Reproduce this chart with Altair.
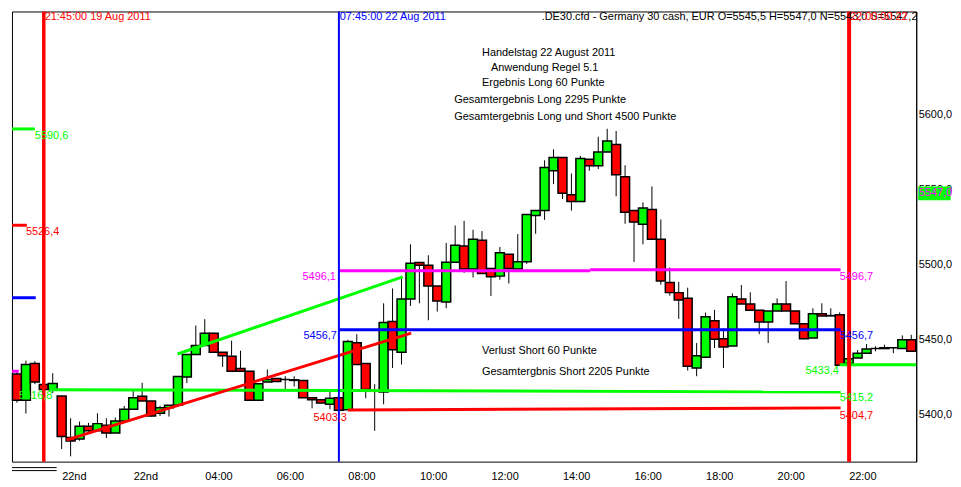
import altair as alt
import pandas as pd

# ---------------- data (15-minute candles, index 0 = Fri 21:15) ----------------
opens = [5427.3, 5409.7, 5434.2, 5420.3, 5417.0, 5412.6, 5385.0, 5383.9, 5392.5, 5389.4,
         5393.2, 5387.9, 5396.0, 5403.8, 5412.4, 5409.3, 5401.1, 5404.8, 5406.4, 5425.2,
         5440.2, 5446.2, 5454.5, 5441.7, 5439.1, 5430.9, 5429.1, 5409.7, 5421.9, 5424.3,
         5423.6, 5423.4, 5423.0, 5411.5, 5410.1, 5407.1, 5411.5, 5403.5, 5448.1, 5434.2,
         5415.9, 5415.2, 5462.3, 5441.7, 5477.3, 5501.5, 5499.8, 5485.9, 5475.3, 5501.8,
         5512.6, 5497.2, 5516.4, 5497.6, 5492.5, 5507.1, 5497.2, 5502.0, 5532.9, 5536.2,
         5562.7, 5571.5, 5546.8, 5542.2, 5570.4, 5566.0, 5575.3, 5580.3, 5558.7, 5536.2,
         5527.0, 5536.9, 5517.0, 5488.3, 5481.5, 5477.7, 5431.3, 5438.4, 5462.7, 5450.8,
         5445.9, 5477.3, 5474.0, 5469.7, 5462.0, 5469.3, 5474.0, 5469.3, 5460.7, 5451.2,
         5467.4, 5466.0, 5466.7, 5434.2, 5438.0, 5441.1, 5444.2, 5444.2, 5444.8, 5444.2,
         5450.1]
highs = [5428.5, 5436.2, 5435.8, 5420.3, 5427.8, 5412.6, 5397.8, 5395.6, 5394.7, 5401.1,
         5397.8, 5398.2, 5406.0, 5416.6, 5421.4, 5409.3, 5406.0, 5406.4, 5425.6, 5440.2,
         5459.6, 5463.8, 5454.5, 5441.7, 5449.5, 5442.8, 5429.1, 5420.7, 5430.3, 5424.3,
         5425.8, 5425.8, 5423.0, 5411.5, 5410.1, 5417.0, 5411.5, 5450.1, 5453.8, 5434.2,
         5420.5, 5474.4, 5484.3, 5490.9, 5513.7, 5501.5, 5506.4, 5485.9, 5514.6, 5526.3,
         5529.3, 5523.4, 5522.5, 5497.6, 5511.9, 5507.1, 5520.5, 5533.6, 5536.2, 5569.7,
         5577.0, 5571.5, 5560.9, 5572.7, 5570.4, 5585.4, 5590.7, 5589.2, 5566.4, 5536.2,
         5541.7, 5552.3, 5530.3, 5498.2, 5488.7, 5484.8, 5447.9, 5468.2, 5470.0, 5457.8,
         5481.0, 5486.6, 5481.7, 5469.7, 5469.3, 5477.7, 5489.2, 5469.3, 5460.7, 5471.1,
         5474.4, 5471.1, 5468.4, 5437.5, 5443.2, 5447.2, 5445.7, 5446.8, 5444.8, 5453.0,
         5453.4]
lows = [5408.1, 5400.9, 5420.5, 5417.0, 5414.6, 5377.3, 5372.4, 5382.8, 5387.6, 5389.4,
        5384.6, 5387.9, 5396.0, 5403.8, 5409.3, 5398.7, 5399.3, 5398.9, 5406.4, 5421.2,
        5440.2, 5446.2, 5441.7, 5432.0, 5429.1, 5429.1, 5409.7, 5409.7, 5421.9, 5422.3,
        5416.3, 5418.9, 5411.5, 5404.4, 5407.9, 5403.8, 5403.1, 5403.5, 5433.6, 5411.1,
        5389.4, 5407.1, 5431.3, 5433.6, 5472.6, 5474.4, 5463.1, 5468.9, 5471.1, 5501.8,
        5494.7, 5491.6, 5494.2, 5479.3, 5490.1, 5487.6, 5497.2, 5500.7, 5520.7, 5530.0,
        5553.8, 5543.9, 5536.2, 5542.2, 5562.7, 5563.8, 5575.3, 5545.7, 5527.4, 5502.0,
        5513.7, 5517.0, 5486.8, 5479.5, 5464.0, 5429.6, 5425.8, 5438.4, 5444.6, 5431.3,
        5445.9, 5474.0, 5469.7, 5453.8, 5447.9, 5469.3, 5469.3, 5460.7, 5450.8, 5451.2,
        5466.0, 5466.0, 5433.1, 5434.2, 5438.0, 5441.1, 5442.4, 5444.2, 5441.1, 5444.2,
        5442.4]
closes = [5409.7, 5433.6, 5421.9, 5417.0, 5421.0, 5385.6, 5382.6, 5392.5, 5389.4, 5394.2,
          5387.9, 5396.0, 5403.8, 5411.5, 5409.3, 5399.3, 5404.8, 5406.4, 5425.6, 5440.2,
          5446.2, 5454.5, 5441.7, 5439.5, 5429.1, 5429.1, 5409.7, 5420.7, 5423.6, 5422.3,
          5423.6, 5423.0, 5411.5, 5410.1, 5407.9, 5411.1, 5403.1, 5449.0, 5433.6, 5417.0,
          5415.9, 5461.6, 5443.5, 5477.3, 5501.1, 5499.8, 5485.9, 5476.0, 5501.8, 5513.0,
          5497.2, 5517.0, 5494.2, 5492.1, 5508.0, 5497.6, 5502.0, 5533.6, 5536.2, 5564.9,
          5571.5, 5547.7, 5542.2, 5570.9, 5566.0, 5575.3, 5582.6, 5560.1, 5535.1, 5528.5,
          5537.9, 5517.0, 5489.2, 5481.5, 5476.6, 5432.4, 5439.5, 5465.4, 5450.5, 5445.2,
          5478.8, 5474.0, 5469.7, 5462.0, 5469.3, 5474.0, 5469.3, 5460.7, 5450.8, 5467.4,
          5466.0, 5466.2, 5433.1, 5437.5, 5441.1, 5443.9, 5444.2, 5444.8, 5444.8, 5450.1,
          5442.4]

tick_pos = [5, 13, 21, 29, 37, 45, 53, 61, 69, 77, 85, 93]
tick_labels = ["22nd", "22nd", "04:00", "06:00", "08:00", "10:00",
               "12:00", "14:00", "16:00", "18:00", "20:00", "22:00"]
price_ticks = [5400, 5450, 5500, 5550, 5600]

# drawn lines: start index, start price, end index, end price, colour, width
seg_k1 = [-0.55, -0.55, -0.55, -0.55, 36.0, 64.1, 36.0, 3.6, 37.0, 92.0, 17.97, 5.56, -0.55, -0.55]
seg_p1 = [5590.6, 5526.4, 5478.1, 5429.1, 5496.1, 5496.7, 5456.7, 5416.8, 5403.3, 5433.4, 5440.6, 5383.4, 5364.9, 5362.9]
seg_k2 = [2.0, 1.1, 2.1, 0.2, 64.1, 92.1, 92.1, 92.1, 92.1, 100.55, 43.14, 44.08, 4.44, 4.44]
seg_p2 = [5590.6, 5526.4, 5478.1, 5429.1, 5496.1, 5496.7, 5456.7, 5415.2, 5404.7, 5433.4, 5492.0, 5454.5, 5364.9, 5362.9]
seg_col = ["#00FF00", "#FF0000", "#0000FF", "#FF00FF", "#FF00FF", "#FF00FF", "#0000FF",
           "#00FF00", "#FF0000", "#00FF00", "#00FF00", "#FF0000", "black", "black"]
seg_w = [3, 3, 3, 3, 3, 3, 3, 3, 3, 3, 3, 3, 1, 1]

vline_k = [3.0, 36.0, 93.05]
vline_col = ["#FF0000", "#0000FF", "#FF0000"]
vline_w = [3.5, 2, 4]

TOP_P = 5665.0
lt_text = ["21:45:00 19 Aug 2011", "07:45:00 22 Aug 2011",
           ".DE30.cfd - Germany 30 cash, EUR O=5545,5 H=5547,0 N=5543,0 S=5547,2",
           "Handelstag 22 August 2011", "Anwendung Regel 5.1", "Ergebnis Long 60 Punkte",
           "Gesamtergebnis Long 2295 Punkte", "Gesamtergebnis Long und Short 4500 Punkte",
           "Verlust Short 60 Punkte", "Gesamtergbnis Short 2205 Punkte",
           "5590,6", "5526,4", "5416,8", "5496,7", "5456,7", "5415,2", "5404,7"]
lt_k = [3.1, 36.1, 58.67, 52.0, 53.0, 52.0, 48.89, 48.89, 52.0, 52.0,
        2.0, 1.0, 0.22, 92.0, 92.0, 92.0, 92.0]
lt_p = [TOP_P, TOP_P, TOP_P, 5641.1, 5631.1, 5621.2, 5609.9, 5598.7, 5442.4, 5428.5,
        5586.1, 5521.9, 5412.6, 5492.1, 5452.3, 5411.3, 5399.5]
lt_col = ["#FF0000", "#0000FF", "black", "black", "black", "black", "black", "black", "black", "black",
          "#00FF00", "#FF0000", "#00FF00", "#FF00FF", "#0000FF", "#00FF00", "#FF0000"]

rt_text = ["5496,1", "5456,7", "5403,3", "5433,4"]
rt_k = [35.67, 35.78, 36.9, 91.9]
rt_p = [5492.1, 5452.3, 5398.2, 5429.1]
rt_col = ["#FF00FF", "#0000FF", "#FF0000", "#00FF00"]

last_text = ["5547,0"]
last_k = [100.85]
last_p = [5547.7]
last_box_k = [100.78, 104.4]
last_box_p = [5552.3, 5543.0]

# ---------------- chart ----------------
FONT = "Liberation Sans"
W, H = 910, 453
xs = alt.Scale(domain=[-0.556, 100.556], nice=False, zero=False)
ys = alt.Scale(domain=[5368.87, 5668.87], nice=False, zero=False)

label_arr = "[" + ",".join("'" + t + "'" for t in tick_labels) + "]"
x_axis = alt.Axis(values=tick_pos, labelExpr=label_arr + "[round((datum.value-5)/8)]",
                  title=None, ticks=False, domain=False, grid=False, labelAlign="left",
                  labelPadding=9, labelFont=FONT, labelFontSize=11, labelColor="black")
y_axis = alt.Axis(orient="right", values=price_ticks,
                  labelExpr="replace(format(datum.value, '.1f'), '.', ',')",
                  title=None, ticks=False, domain=True, domainColor="black", grid=False,
                  labelPadding=2, labelFont=FONT, labelFontSize=11, labelColor="black")

candles = pd.DataFrame({"k": list(range(len(opens))), "open": opens, "high": highs,
                        "low": lows, "close": closes})
candles["col"] = ["#00FF00" if c >= o else "#FF0000" for o, c in zip(opens, closes)]
candles["k0"] = candles["k"] - 0.5
candles["k1"] = candles["k"] + 0.5

wicks = alt.Chart(candles).mark_rule(color="black", strokeWidth=1).encode(
    x=alt.X("k:Q", scale=xs, axis=x_axis),
    y=alt.Y("low:Q", scale=ys, axis=y_axis),
    y2="high:Q",
)
bodies = alt.Chart(candles).mark_rect(stroke="black", strokeWidth=1.5).encode(
    x=alt.X("k0:Q", scale=xs, axis=x_axis), x2="k1:Q",
    y=alt.Y("open:Q", scale=ys, axis=y_axis), y2="close:Q",
    fill=alt.Fill("col:N", scale=None),
)

segs = pd.DataFrame({"k1": seg_k1, "p1": seg_p1, "k2": seg_k2, "p2": seg_p2,
                     "col": seg_col, "w": seg_w})
lines = alt.Chart(segs).mark_rule().encode(
    x=alt.X("k1:Q", scale=xs, axis=x_axis), x2="k2:Q",
    y=alt.Y("p1:Q", scale=ys, axis=y_axis), y2="p2:Q",
    color=alt.Color("col:N", scale=None),
    strokeWidth=alt.StrokeWidth("w:Q", scale=None),
)

vdf = pd.DataFrame({"k": vline_k, "col": vline_col, "w": vline_w})
vlines = alt.Chart(vdf).mark_rule().encode(
    x=alt.X("k:Q", scale=xs, axis=x_axis),
    color=alt.Color("col:N", scale=None),
    strokeWidth=alt.StrokeWidth("w:Q", scale=None),
)

ldf = pd.DataFrame({"t": lt_text, "k": lt_k, "p": lt_p, "col": lt_col})
ltexts = alt.Chart(ldf).mark_text(align="left", baseline="middle", font=FONT, fontSize=11).encode(
    x=alt.X("k:Q", scale=xs, axis=x_axis), y=alt.Y("p:Q", scale=ys, axis=y_axis),
    text="t:N", color=alt.Color("col:N", scale=None),
)
rdf = pd.DataFrame({"t": rt_text, "k": rt_k, "p": rt_p, "col": rt_col})
rtexts = alt.Chart(rdf).mark_text(align="right", baseline="middle", font=FONT, fontSize=11).encode(
    x=alt.X("k:Q", scale=xs, axis=x_axis), y=alt.Y("p:Q", scale=ys, axis=y_axis),
    text="t:N", color=alt.Color("col:N", scale=None),
)

edf = pd.DataFrame({"t": ["22:00:00 22 Aug 2011"], "k": [93.15], "p": [TOP_P]})
etext = alt.Chart(edf).mark_text(align="left", baseline="middle", font=FONT, fontSize=11,
                                 color="#FF0000", limit=68, ellipsis=" ").encode(
    x=alt.X("k:Q", scale=xs, axis=x_axis), y=alt.Y("p:Q", scale=ys, axis=y_axis), text="t:N",
)

bdf = pd.DataFrame({"k1": [last_box_k[0]], "k2": [last_box_k[1]],
                    "p1": [last_box_p[0]], "p2": [last_box_p[1]]})
box = alt.Chart(bdf).mark_rect(color="#00FF00").encode(
    x=alt.X("k1:Q", scale=xs, axis=x_axis), x2="k2:Q",
    y=alt.Y("p1:Q", scale=ys, axis=y_axis), y2="p2:Q",
)
mdf = pd.DataFrame({"t": last_text, "k": last_k, "p": last_p})
mtext = alt.Chart(mdf).mark_text(align="left", baseline="middle", font=FONT, fontSize=11,
                                 color="#FF00FF").encode(
    x=alt.X("k:Q", scale=xs, axis=x_axis), y=alt.Y("p:Q", scale=ys, axis=y_axis), text="t:N",
)

chart = alt.layer(wicks, bodies, lines, vlines, ltexts, rtexts, etext, box, mtext).properties(
    width=W, height=H,
    padding={"left": 2, "top": 0, "right": 0, "bottom": 0},
    background="white",
).configure_view(stroke="black", strokeWidth=1)

chart.save("out.html", embed_options={"renderer": "svg", "actions": False})
